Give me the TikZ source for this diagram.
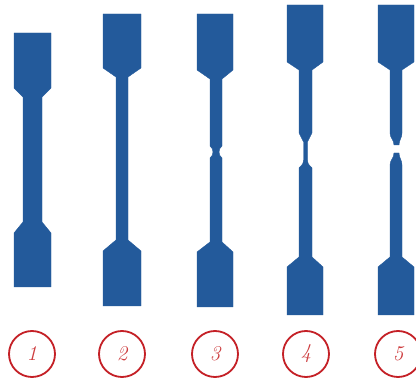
\documentclass[tikz,border=0pt]{standalone}
\usetikzlibrary{calc}
\definecolor{specblue}{RGB}{35,90,155}
\definecolor{ringred}{RGB}{196,32,38}
\definecolor{digitred}{RGB}{205,60,62}
\tikzset{
  specimen/.style={fill=specblue, draw=specblue, line width=0.4pt, line join=round},
  stage/.style={circle, draw=ringred, line width=1.8pt, minimum size=46pt, inner sep=0pt,
    text=digitred, font=\fontsize{21}{24}\selectfont\itshape}
}
\begin{document}
\begin{tikzpicture}[x=1pt,y=-1pt]
\useasboundingbox (0,0) rectangle (416,379);

% stage 1: undeformed bar
\path[specimen] (14,33) -- (51,33) -- (51,88) -- (42,97) -- (42,222) -- (51,233) -- (51,287)
  -- (14,287) -- (14,233) -- (23,222) -- (23,97) -- (14,88) -- cycle;

% stage 2: uniform elongation
\path[specimen] (103,14) -- (141,14) -- (141,68) -- (128,77) -- (128,240) -- (141,251) -- (141,306)
  -- (103,306) -- (103,251) -- (116,240) -- (116,77) -- (103,68) -- cycle;

% stage 3: onset of necking
\path[specimen] (197,14) -- (233,14) -- (233,70) -- (222,79) -- (222,146)
  .. controls (218,149) and (218,155) .. (222,158)
  -- (222,242) -- (233,252) -- (233,307)
  -- (197,307) -- (197,252) -- (210,242) -- (210,158)
  .. controls (214,155) and (214,149) .. (210,146)
  -- (210,79) -- (197,70) -- cycle;

% stage 4: pronounced neck
\path[specimen] (287,5) -- (323,5) -- (323,62) -- (312,70) -- (312,133)
  -- (310,137) .. controls (308,139) .. (307.5,142) -- (307.5,160)
  .. controls (308,164) .. (312,168)
  -- (312,257) -- (323,267) -- (323,315)
  -- (287,315) -- (287,267) -- (299,257) -- (299,168)
  .. controls (303,164) .. (303.5,160) -- (303.5,142)
  .. controls (303,139) .. (301,137) -- (299,133)
  -- (299,70) -- (287,62) -- cycle;

% stage 5: fracture, upper half
\path[specimen] (378,5) -- (414,5) -- (414,62) -- (402,70) -- (402,133)
  .. controls (402,138) and (399,140) .. (399,145) -- (394,145)
  .. controls (394,140) and (390,138) .. (390,133)
  -- (390,70) -- (378,62) -- cycle;
% stage 5: fracture, lower half
\path[specimen] (394,153) -- (399,153)
  .. controls (399,158) and (402,160) .. (402,165)
  -- (402,257) -- (414,267) -- (414,315)
  -- (378,315) -- (378,267) -- (390,257) -- (390,165)
  .. controls (390,160) and (394,158) .. (394,153) -- cycle;

% stage labels
\node[stage] (s1) at (32,354) {1};
\node[stage] (s2) at (122,354) {2};
\node[stage] (s3) at (215,354) {3};
\node[stage] (s4) at (306,354) {4};
\node[stage] (s5) at (398,354) {5};
\end{tikzpicture}
\end{document}
